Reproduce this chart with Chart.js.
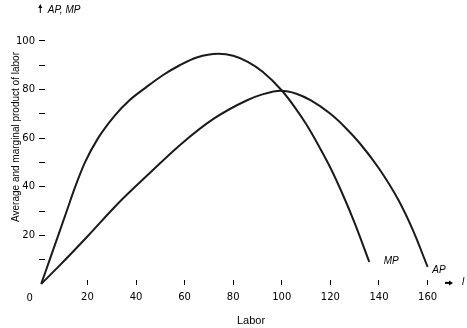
<!DOCTYPE html>
<html lang="en">
<head>
<meta charset="UTF-8">
<title>Average and marginal product of labor</title>
<script src="https://cdn.jsdelivr.net/npm/chart.js@4.4.1/dist/chart.umd.min.js"></script>
<style>
  html, body { margin: 0; padding: 0; background: #fff; }
</style>
</head>
<body>
<canvas id="chart" width="467" height="328"></canvas>
<script>
// Marginal product curve (labor, MP)
const mpLabor  = [1, 4.5, 8, 11.5, 15, 19, 24.4, 31, 37, 44, 51, 58, 65, 73.9, 80, 86, 92, 100, 105, 110, 115, 120, 125, 130, 136];
const mpValues = [0, 10, 20, 30, 40, 50, 60, 69, 75.3, 80.8, 85.9, 90, 93.2, 94.7, 93.9, 91.4, 87.4, 79.6, 73.2, 65.8, 57.2, 47.8, 37, 25, 9];

// Average product curve (labor, AP)
const apLabor  = [1, 8.5, 20, 32.5, 45, 58.5, 72, 85.5, 92, 99.5, 106, 112, 120, 126, 132, 140, 148, 154, 160];
const apValues = [0, 7.5, 19.5, 33, 45, 57.5, 68, 75.5, 78, 79.5, 78.3, 75.5, 70, 64.5, 58, 47.5, 34.5, 22, 7];

const xTicks = [20, 40, 60, 80, 100, 120, 140, 160];
const yTicks = [10, 20, 30, 40, 50, 60, 70, 80, 90, 100];
const yTickLabels = ['', '20', '', '40', '', '60', '', '80', '', '100'];

const tickFont = { family: 'DejaVu Sans', size: 10 };
const ink = '#000';
const lineInk = '#1a1a1a';

function toPoints(xs, ys) {
    return xs.map((x, i) => ({ x: x, y: ys[i] }));
}

// extra annotations: axis arrows, curve names, y title
const annotate = {
    id: 'annotate',
    afterDraw(chart) {
        const ctx = chart.ctx;
        const xs = chart.scales.x;
        const ys = chart.scales.y;
        const x0 = xs.getPixelForValue(0);
        const y0 = ys.getPixelForValue(0);
        ctx.save();
        ctx.fillStyle = ink;
        ctx.strokeStyle = ink;

        // y title
        ctx.save();
        ctx.translate(16.5, 137);
        ctx.rotate(-Math.PI / 2);
        ctx.font = '10px "Liberation Sans"';
        ctx.textAlign = 'center';
        ctx.textBaseline = 'middle';
        ctx.fillText('Average and marginal product of labor', 0, 0);
        ctx.restore();

        // "0" under the origin
        ctx.font = '10px "DejaVu Sans"';
        ctx.textAlign = 'center';
        ctx.textBaseline = 'middle';
        ctx.fillText('0', x0 - 9, 298);

        // top arrow + label
        ctx.lineWidth = 1;
        ctx.beginPath();
        ctx.moveTo(x0 + 1.5, 13);
        ctx.lineTo(x0 + 1.5, 6);
        ctx.stroke();
        ctx.beginPath();
        ctx.moveTo(x0 + 1.5, 4);
        ctx.lineTo(x0 - 0.5, 8);
        ctx.lineTo(x0 + 3.5, 8);
        ctx.closePath();
        ctx.fill();
        ctx.font = 'italic 10px "Liberation Sans"';
        ctx.textAlign = 'left';
        ctx.fillText('AP, MP', x0 + 9, 10);

        // right arrow + label
        ctx.lineWidth = 2;
        ctx.beginPath();
        ctx.moveTo(445, y0 - 1);
        ctx.lineTo(450, y0 - 1);
        ctx.stroke();
        ctx.beginPath();
        ctx.moveTo(453, y0 - 1);
        ctx.lineTo(449, y0 - 3.5);
        ctx.lineTo(449, y0 + 1.5);
        ctx.closePath();
        ctx.fill();
        ctx.fillText('l', 462, y0 - 2);

        // curve names
        ctx.textAlign = 'center';
        ctx.fillText('MP', xs.getPixelForValue(145), ys.getPixelForValue(9.5));
        ctx.fillText('AP', xs.getPixelForValue(164.7), ys.getPixelForValue(5.8));
        ctx.restore();
    }
};

new Chart(document.getElementById('chart'), {
    type: 'scatter',
    data: {
        datasets: [
            {
                label: 'MP',
                data: toPoints(mpLabor, mpValues),
                showLine: true,
                borderColor: lineInk,
                borderWidth: 2,
                pointRadius: 0,
                cubicInterpolationMode: 'monotone',
                clip: false
            },
            {
                label: 'AP',
                data: toPoints(apLabor, apValues),
                showLine: true,
                borderColor: lineInk,
                borderWidth: 2,
                pointRadius: 0,
                cubicInterpolationMode: 'monotone',
                clip: false
            }
        ]
    },
    options: {
        responsive: false,
        animation: false,
        layout: { padding: { left: 0, top: 31, right: 10, bottom: 0 } },
        plugins: {
            legend: { display: false },
            tooltip: { enabled: false }
        },
        scales: {
            x: {
                type: 'linear',
                // the origin sits just left of the plot area, under the y ticks
                min: 2.55,
                max: 172.1,
                afterBuildTicks: s => { s.ticks = xTicks.map(v => ({ value: v })); },
                afterFit: s => { s.height = 48; },
                border: { display: false },
                grid: { drawOnChartArea: false, drawTicks: true, tickLength: 5, color: ink, lineWidth: 1 },
                ticks: { font: tickFont, color: ink, padding: 6, maxRotation: 0, autoSkip: false },
                title: {
                    display: true,
                    text: 'Labor',
                    color: ink,
                    font: { family: 'Liberation Sans', size: 11 },
                    padding: { top: 0, bottom: 0 }
                }
            },
            y: {
                type: 'linear',
                min: 1.6,
                max: 104.1,
                afterBuildTicks: s => { s.ticks = yTicks.map(v => ({ value: v })); },
                afterFit: s => { s.width = 45; },
                border: { display: false },
                grid: { drawOnChartArea: false, drawTicks: true, tickLength: 6, color: ink, lineWidth: 1 },
                ticks: {
                    font: tickFont,
                    color: ink,
                    padding: 4,
                    autoSkip: false,
                    callback: (v, i) => yTickLabels[i]
                }
            }
        }
    },
    plugins: [annotate]
});
</script>
</body>
</html>
